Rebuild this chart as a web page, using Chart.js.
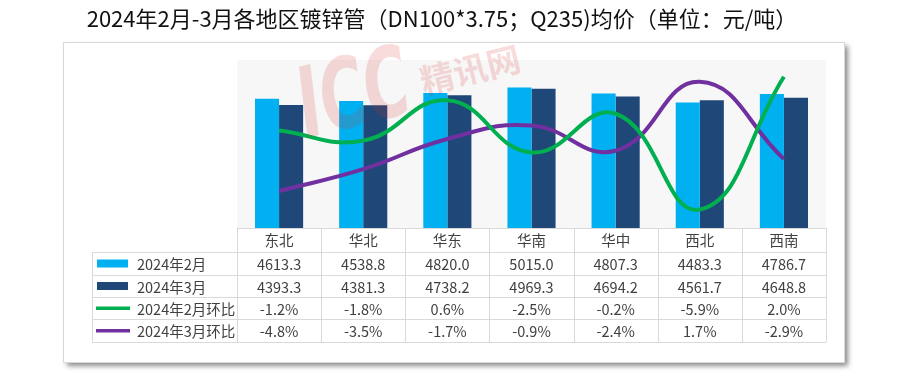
<!DOCTYPE html>
<html>
<head>
<meta charset="utf-8">
<script src="https://cdn.jsdelivr.net/npm/chart.js@4.4.1/dist/chart.umd.min.js"></script>
<style>
  html, body { margin: 0; padding: 0; background: #fff; }
  #wrap { width: 900px; height: 385px; position: relative; }
</style>
</head>
<body>
<div id="wrap"><canvas id="chart" width="900" height="385"></canvas></div>
<script>
// datos
const regions = ['东北', '华北', '华东', '华南', '华中', '西北', '西南']
const febPrice = [4613.3, 4538.8, 4820.0, 5015.0, 4807.3, 4483.3, 4786.7]
const marPrice = [4393.3, 4381.3, 4738.2, 4969.3, 4694.2, 4561.7, 4648.8]
const febChange = [-1.2, -1.8, 0.6, -2.5, -0.2, -5.9, 2.0]
const marChange = [-4.8, -3.5, -1.7, -0.9, -2.4, 1.7, -2.9]
const seriesNames = ['2024年2月', '2024年3月', '2024年2月环比', '2024年3月环比']

const titleText = '2024年2月-3月各地区镀锌管（DN100*3.75；Q235)均价（单位：元/吨）'
const FONT = '"Noto Sans CJK SC", "Noto Sans", sans-serif'

const colFeb = '#00B0F0'
const colMar = '#1F4778'
const colGreen = '#00B050'
const colPurple = '#7030A0'

// marco, fondo del area y titulo
const framePlugin = {
  id: 'frame',
  beforeDraw(chart) {
    const ctx = chart.ctx
    const a = chart.chartArea
    ctx.save()
    ctx.fillStyle = '#fff'
    ctx.fillRect(0, 0, chart.width, chart.height)
    // panel con sombra
    ctx.shadowColor = 'rgba(0,0,0,0.45)'
    ctx.shadowBlur = 5
    ctx.shadowOffsetX = 4
    ctx.shadowOffsetY = 4
    ctx.fillStyle = '#fff'
    ctx.fillRect(63, 42, 781, 320)
    ctx.shadowColor = 'transparent'
    ctx.strokeStyle = '#d9d9d9'
    ctx.lineWidth = 1
    ctx.strokeRect(63.5, 42.5, 781, 320)
    ctx.fillStyle = '#f7f7f7'
    ctx.fillRect(a.left, a.top, a.right - a.left, a.bottom - a.top)
    // titulo
    ctx.fillStyle = '#111'
    ctx.font = '22px ' + FONT
    ctx.textAlign = 'center'
    ctx.textBaseline = 'middle'
    ctx.fillText(titleText, 442, 19)
    ctx.restore()
  }
}

// tabla de datos debajo del grafico
const tablePlugin = {
  id: 'datatable',
  afterDraw(chart) {
    const ctx = chart.ctx
    const xs = chart.scales.x
    const a = chart.chartArea
    const colW = (a.right - a.left) / regions.length
    const rows = [a.bottom, 252, 275, 297, 319, 342]
    const leftX = 92
    ctx.save()
    ctx.strokeStyle = '#d9d9d9'
    ctx.lineWidth = 1
    ctx.beginPath()
    // lineas horizontales
    ctx.moveTo(a.left, rows[0] + 0.5); ctx.lineTo(a.right, rows[0] + 0.5)
    for (let r = 1; r < rows.length; r++) {
      ctx.moveTo(leftX, rows[r] + 0.5); ctx.lineTo(a.right, rows[r] + 0.5)
    }
    // verticales
    ctx.moveTo(leftX + 0.5, rows[1]); ctx.lineTo(leftX + 0.5, rows[5])
    for (let i = 0; i <= regions.length; i++) {
      const x = Math.round(a.left + i * colW) + 0.5
      ctx.moveTo(x, rows[0]); ctx.lineTo(x, rows[5])
    }
    ctx.stroke()

    ctx.fillStyle = '#404040'
    ctx.font = '14.5px ' + FONT
    ctx.textAlign = 'center'
    ctx.textBaseline = 'middle'
    const values = [febPrice, marPrice, febChange, marChange]
    regions.forEach((r, i) => {
      const cx = xs.getPixelForValue(i)
      ctx.fillText(r, cx, (rows[0] + rows[1]) / 2)
      values.forEach((arr, k) => {
        const txt = k < 2 ? arr[i].toFixed(1) : arr[i].toFixed(1) + '%'
        ctx.fillText(txt, cx, (rows[k + 1] + rows[k + 2]) / 2 + 1)
      })
    })
    // leyenda en la tabla
    const keyCols = [colFeb, colMar, colGreen, colPurple]
    ctx.textAlign = 'left'
    seriesNames.forEach((name, k) => {
      const cy = (rows[k + 1] + rows[k + 2]) / 2
      ctx.fillStyle = keyCols[k]
      if (k < 2) {
        ctx.fillRect(97, cy - 4, 31, 8)
      } else {
        ctx.fillRect(96, cy - 1.5, 34, 3.5)
      }
      ctx.fillStyle = '#404040'
      ctx.fillText(name, 137, cy + 1)
    })
    ctx.restore()
  }
}

// marca de agua
const watermarkPlugin = {
  id: 'watermark',
  afterDraw(chart) {
    const ctx = chart.ctx
    ctx.save()
    ctx.fillStyle = 'rgba(215, 50, 50, 0.17)'
    ctx.translate(355, 100)
    ctx.rotate(-0.24)
    ctx.save()
    ctx.scale(0.85, 1.35)
    ctx.font = 'bold italic 72px "DejaVu Sans", sans-serif'
    ctx.textAlign = 'center'
    ctx.textBaseline = 'middle'
    ctx.fillText('ICC', 0, 0)
    ctx.restore()
    ctx.font = 'bold 34px ' + FONT
    ctx.textAlign = 'left'
    ctx.textBaseline = 'middle'
    ctx.fillText('精讯网', 68, -2)
    ctx.restore()
  }
}

chart = new Chart(document.getElementById('chart'), {
  type: 'bar',
  data: {
    labels: regions,
    datasets: [
      {
        type: 'line',
        label: seriesNames[2],
        data: febChange,
        yAxisID: 'y2',
        borderColor: colGreen,
        borderWidth: 4,
        pointRadius: 0,
        tension: 0.45,
        fill: false,
        order: 0
      },
      {
        type: 'line',
        label: seriesNames[3],
        data: marChange,
        yAxisID: 'y2',
        borderColor: colPurple,
        borderWidth: 4,
        pointRadius: 0,
        tension: 0.45,
        fill: false,
        order: 1
      },
      {
        label: seriesNames[0],
        data: febPrice,
        backgroundColor: colFeb,
        categoryPercentage: 0.572,
        barPercentage: 1,
        order: 2
      },
      {
        label: seriesNames[1],
        data: marPrice,
        backgroundColor: colMar,
        categoryPercentage: 0.572,
        barPercentage: 1,
        order: 3
      }
    ]
  },
  options: {
    responsive: false,
    animation: false,
    layout: { padding: { left: 237, right: 74, top: 60, bottom: 157 } },
    scales: {
      x: { display: false, offset: true },
      y: { display: false, min: 0, max: 6000 },
      y2: { display: false, min: -7, max: 3, position: 'right' }
    },
    plugins: {
      legend: { display: false },
      tooltip: { enabled: false }
    }
  },
  plugins: [framePlugin, tablePlugin, watermarkPlugin]
})
</script>
</body>
</html>
